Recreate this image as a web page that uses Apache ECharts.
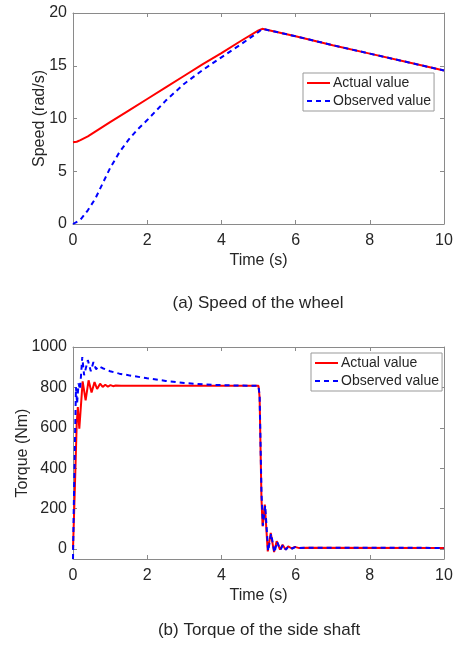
<!DOCTYPE html>
<html><head><meta charset="utf-8">
<script src="https://cdn.jsdelivr.net/npm/echarts@6/dist/echarts.min.js"></script>
<style>html,body{margin:0;padding:0;background:#fff}#c{width:459px;height:646px}</style>
</head><body><div id="c"></div>
<script>
// ---- Data ----
const seriesNames = ['Actual value', 'Observed value'];
const xTicks = [0, 2, 4, 6, 8, 10];
const speedTicks = [0, 5, 10, 15, 20];
const torqueTicks = [0, 200, 400, 600, 800, 1000];

const speedActualT = [0,0.1,0.2,0.4,0.6,0.8,1,1.5,2,2.5,3,3.5,4,4.5,5,5.1,6,7,8,9,10];
const speedActualV = [7.75,7.8,7.95,8.3,8.75,9.2,9.65,10.75,11.85,12.95,14.05,15.15,16.2,17.3,18.35,18.5,17.8,16.95,16.15,15.35,14.55];

const speedObsT = [0,0.2,0.4,0.6,0.8,1,1.25,1.5,1.75,2,2.5,3,3.5,4,4.5,5,5.1,6,7,8,9,10];
const speedObsV = [0,0.4,1.3,2.4,3.85,5.3,6.8,8.0,9.0,9.85,11.7,13.3,14.6,15.8,16.97,18.2,18.5,17.8,16.95,16.15,15.35,14.55];

const torqueActualT = [0,0.05,0.1,0.13,0.17,0.26,0.34,0.42,0.5,0.58,0.65,0.73,0.8,0.87,0.94,1.01,1.08,1.15,1.3,5.0,5.03,5.08,5.11,5.17,5.25,5.33,5.42,5.49,5.58,5.65,5.73,5.8,5.9,5.98,6.1,6.3,10];
const torqueActualV = [0,300,620,702,595,830,736,835,775,826,792,818,802,813,804,811,806,809,808,808,750,250,112,219,-12,79,-16,38,-3,21,-3,13,2,10,4,6,5];

const torqueObsT = [0,0.02,0.05,0.08,0.11,0.15,0.19,0.25,0.3,0.4,0.48,0.55,0.62,0.7,0.8,1,1.25,1.5,2,2.5,3,3.5,4,4.5,5.0,5.03,5.08,5.12,5.18,5.26,5.34,5.43,5.5,5.59,5.66,5.74,5.81,5.91,5.99,6.1,6.3,10];
const torqueObsV = [-50,200,500,800,720,820,790,950,860,935,880,925,890,905,895,880,868,860,845,832,822,815,811,809,808,760,280,115,215,-10,75,-18,36,-5,20,-4,12,2,9,4,6,5];

const captions = ['(a) Speed of the wheel', '(b) Torque of the side shaft'];

// ---- Helpers ----
const zip = (t, v) => t.map((x, i) => [x, v[i]]);
const FONT = '"Liberation Sans", Arial, sans-serif';
const TXT = '#262626';
const AX = '#8a8a8a';
const plain = v => String(v);

function xAxes(grid) {
  const base = {
    type: 'value', gridIndex: grid, min: 0, max: 10,
    axisLine: { show: true, onZero: false, lineStyle: { color: AX, width: 1 } },
    axisTick: { show: true, inside: true, length: 4, customValues: xTicks, lineStyle: { color: AX } },
    splitLine: { show: false }
  };
  return [
    Object.assign({}, base, {
      position: 'bottom', name: 'Time (s)', nameLocation: 'middle', nameGap: 29,
      nameTextStyle: { fontFamily: FONT, fontSize: 16, color: TXT },
      axisLabel: { show: true, customValues: xTicks, margin: 9, formatter: plain, fontFamily: FONT, fontSize: 16, color: TXT }
    }),
    Object.assign({}, base, { position: 'top', axisLabel: { show: false } })
  ];
}
function yAxes(grid, min, max, ticks, name, gap) {
  const base = {
    type: 'value', gridIndex: grid, min: min, max: max,
    axisLine: { show: true, onZero: false, lineStyle: { color: AX, width: 1 } },
    axisTick: { show: true, inside: true, length: 4, customValues: ticks, lineStyle: { color: AX } },
    splitLine: { show: false }
  };
  return [
    Object.assign({}, base, {
      position: 'left', name: name, nameLocation: 'middle', nameGap: gap, nameMoveOverlap: false,
      nameTextStyle: { fontFamily: FONT, fontSize: 16, color: TXT },
      axisLabel: { show: true, customValues: ticks, margin: 6, formatter: plain, fontFamily: FONT, fontSize: 16, color: TXT }
    }),
    Object.assign({}, base, { position: 'right', axisLabel: { show: false } })
  ];
}
function line(name, data, xi, yi, color, dashed) {
  return {
    type: 'line', name: name, data: data, xAxisIndex: xi, yAxisIndex: yi,
    symbol: 'none', showSymbol: false, smooth: false, animation: false,
    lineStyle: { color: color, width: 2, type: dashed ? [5, 4] : 'solid' },
    itemStyle: { color: color }
  };
}
function legend(left, top) {
  return {
    data: seriesNames, left: left, top: top, orient: 'vertical',
    backgroundColor: '#fff', borderColor: '#999', borderWidth: 1,
    padding: [3, 3, 3, 3], itemGap: 4, itemWidth: 23, itemHeight: 14,
    itemStyle: { opacity: 0 },
    textStyle: { fontFamily: FONT, fontSize: 14, color: TXT, padding: [0, 0, 0, -2] },
    selectedMode: false
  };
}

const chart = echarts.init(document.getElementById('c'));
chart.setOption({
  backgroundColor: '#fff',
  animation: false,
  grid: [
    { left: 73, top: 13, width: 371, height: 211, outerBoundsMode: 'none' },
    { left: 73, top: 347, width: 371, height: 212, outerBoundsMode: 'none' }
  ],
  xAxis: xAxes(0).concat(xAxes(1)),
  yAxis: yAxes(0, 0, 20, speedTicks, 'Speed (rad/s)', 25)
    .concat(yAxes(1, -50, 1000, torqueTicks, 'Torque (Nm)', 42)),
  legend: [legend(303, 73), legend(311, 353)],
  series: [
    line(seriesNames[0], zip(speedActualT, speedActualV), 0, 0, '#ff0000', false),
    line(seriesNames[1], zip(speedObsT, speedObsV), 0, 0, '#0000ff', true),
    line(seriesNames[0], zip(torqueActualT, torqueActualV), 2, 2, '#ff0000', false),
    line(seriesNames[1], zip(torqueObsT, torqueObsV), 2, 2, '#0000ff', true)
  ],
  graphic: [
    { type: 'text', x: 258, y: 303, style: { text: captions[0], fontFamily: FONT, fontSize: 17, fill: TXT, textAlign: 'center', textVerticalAlign: 'middle' } },
    { type: 'text', x: 259, y: 630, style: { text: captions[1], fontFamily: FONT, fontSize: 17, fill: TXT, textAlign: 'center', textVerticalAlign: 'middle' } }
  ]
});
</script>
</body></html>
